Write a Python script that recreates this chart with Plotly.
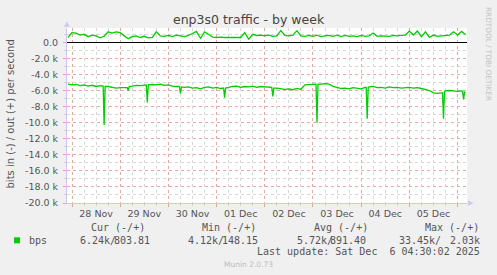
import plotly.graph_objects as go

# ---------------- data ----------------
# hours relative to 28 Nov 2025 00:00
out_hours = list(range(-2, 197, 2))
out_bps = [
    600, 1200, 1150, 900, 1000, 700, 900, 800, 550, 750,
    1300, 1150, 1300, 1200, 800, 450, 700, 800, 600, 750,
    550, 600, 1300, 800, 750, 850, 700, 900, 800, 700,
    850, 1100, 1350, 500, 1300, 1000, 650, 600, 650, 600,
    620, 600, 650, 600, 1200, 400, 1000, 850, 900, 800,
    900, 750, 800, 1450, 850, 800, 900, 1450, 800, 750,
    850, 750, 900, 700, 800, 850, 750, 900, 700, 850,
    750, 800, 700, 850, 750, 800, 1150, 750, 800, 800,
    750, 850, 800, 850, 900, 1400, 900, 1400, 700, 1300,
    600, 900, 750, 800, 850, 900, 1300, 900, 1350, 950,
]

in_hours = [
    -2, 0, 2, 4, 6, 8, 10, 12, 14, 15.5, 16, 16.5,
    18, 20, 22, 24, 26, 27.5, 28, 28.5, 30, 32, 34, 36,
    37, 37.5, 38, 40, 42, 44, 46, 48, 50, 52, 53.5, 54, 54.5,
    56, 58, 60, 62, 64, 66, 68, 70, 72, 74, 75.5, 76, 76.5,
    78, 80, 82, 84, 86, 88, 90, 92, 94, 96, 98, 99.5, 100, 100.5,
    102, 104, 106, 108, 110, 112, 114, 116, 118, 120, 121.5, 122, 122.5,
    124, 126, 128, 130, 132, 134, 136, 138, 140, 142, 144, 146, 146.5, 147, 147.5,
    148, 150, 152, 154, 156, 158, 160, 162, 164, 166, 168, 170, 172, 174,
    176, 178, 180, 182, 184, 184.5, 185, 185.5, 186, 188, 190, 192, 194, 194.5, 195, 195.5, 196,
]
in_bps = [
    -5200, -5300, -5250, -5400, -5300, -5450, -5350, -5500, -5400, -5450, -10300, -5500,
    -5500, -5600, -5700, -5650, -5600, -5650, -6000, -5500, -5450, -5350, -5400, -5300,
    -5300, -7500, -5300, -5250, -5300, -5200, -5350, -5300, -5450, -5500, -5500, -6350, -5550,
    -5600, -5550, -5700, -5650, -5800, -5600, -5550, -5700, -5600, -5750, -5700, -6900, -5700,
    -5600, -5500, -5450, -5600, -5500, -5550, -5450, -5600, -5500, -5550, -5600, -5600, -6750, -5700,
    -5700, -5750, -5850, -5800, -5900, -5750, -5850, -5300, -5250, -5200, -5200, -10000, -5200,
    -5200, -5150, -5200, -5500, -5600, -5750, -5700, -5800, -5650, -5700, -5800, -5600, -5600, -9500, -5600,
    -5550, -5500, -5650, -5600, -5700, -5550, -5650, -5600, -5700, -5650, -5600, -5700, -5650, -5750,
    -5900, -6000, -6300, -6350, -6300, -6300, -9500, -6100, -6050, -6000, -6050, -6100, -6050, -6100, -7100, -6200, -6250,
]
assert len(in_hours) == len(in_bps) and len(out_hours) == len(out_bps)

day_label_hours = [12, 36, 60, 84, 108, 132, 156, 180]
day_labels = ["28 Nov", "29 Nov", "30 Nov", "01 Dec", "02 Dec", "03 Dec", "04 Dec", "05 Dec"]
y_tick_vals = [0, -2000, -4000, -6000, -8000, -10000, -12000, -14000, -16000, -18000, -20000]
y_tick_text = ["0.0", "-2.0 k", "-4.0 k", "-6.0 k", "-8.0 k", "-10.0 k", "-12.0 k",
               "-14.0 k", "-16.0 k", "-18.0 k", "-20.0 k"]

legend_name = "bps"
col_headers = ["Cur (-/+)", "Min (-/+)", "Avg (-/+)", "Max (-/+)"]
col_in = ["6.24k/", "4.12k/", "5.72k/", "33.45k/"]
col_out = ["803.81", "148.15", "891.40", "2.03k"]
last_update = "Last update: Sat Dec  6 04:30:02 2025"

X_RANGE = [-2.49, 196.7]
Y_RANGE = [-20000, 1780]

# ---------------- layout geometry ----------------
W, H = 497, 275
L, R, T, B = 67, 30, 28, 72
PW, PH = W - L - R, H - T - B


def px(x):
    return (x - L) / PW


def py(y):
    return 1 - (y - T) / PH


GREEN = "#00CC00"
TXT = "#555555"
SANS = "DejaVu Sans"
MONO = "DejaVu Sans Mono"

fig = go.Figure()
fig.add_trace(go.Scatter(x=in_hours, y=in_bps, mode="lines",
                         line=dict(color=GREEN, width=1.3), xaxis="x", yaxis="y",
                         showlegend=False, hoverinfo="skip"))
fig.add_trace(go.Scatter(x=out_hours, y=out_bps, mode="lines",
                         line=dict(color=GREEN, width=1.3), xaxis="x2", yaxis="y",
                         showlegend=False, hoverinfo="skip"))

fig.update_layout(
    width=W, height=H,
    margin=dict(l=L, r=R, t=T, b=B, pad=0),
    paper_bgcolor="#F0F0F0", plot_bgcolor="#FFFFFF",
    showlegend=False,
    xaxis=dict(
        range=X_RANGE, tickmode="linear", tick0=0, dtick=24,
        showticklabels=False, showgrid=True, gridcolor="#E8A8A8", griddash="dot", gridwidth=1,
        ticks="outside", ticklen=3, tickcolor="#E8A0A0",
        minor=dict(dtick=6, tick0=0, showgrid=True, gridcolor="#D8D8D8", griddash="dot",
                   ticks="outside", ticklen=2, tickcolor="#D0D0D0"),
        showline=True, linecolor="#C8C8F0", linewidth=1, zeroline=False,
        fixedrange=True,
    ),
    xaxis2=dict(
        range=X_RANGE, overlaying="x", side="bottom", anchor="y",
        tickmode="array", tickvals=day_label_hours, ticktext=day_labels,
        showgrid=False, ticks="", showline=False, zeroline=False,
        tickfont=dict(family=SANS, size=9.5, color=TXT), ticklabelstandoff=3,
    ),
    yaxis=dict(
        range=Y_RANGE, tickmode="array", tickvals=y_tick_vals, ticktext=y_tick_text,
        tickfont=dict(family=SANS, size=9.5, color=TXT),
        showgrid=True, gridcolor="#E8A8A8", griddash="dot", gridwidth=1,
        ticks="outside", ticklen=3, tickcolor="#E8A0A0", ticklabelstandoff=3,
        minor=dict(dtick=1000, tick0=0, showgrid=True, gridcolor="#D8D8D8", griddash="dot",
                   ticks="outside", ticklen=2, tickcolor="#D0D0D0"),
        showline=True, linecolor="#C8C8F0", linewidth=1,
        zeroline=True, zerolinecolor="#000000", zerolinewidth=1,
    ),
)

ann = []


def text(x, y, s, size, color=TXT, family=SANS, xanchor="left", angle=0):
    ann.append(dict(x=px(x), y=py(y), xref="paper", yref="paper", text=s, showarrow=False,
                    font=dict(family=family, size=size, color=color),
                    xanchor=xanchor, yanchor="middle", textangle=angle))


text(248.5, 19, "enp3s0 traffic - by week", 12.5, color="#444444", xanchor="center")
text(10, 114.5, "bits in (-) / out (+) per second", 10, xanchor="center", angle=-90)
text(488.5, 53.5, "RRDTOOL / TOBI OETIKER", 7.3, color="#C4C4C4", xanchor="center", angle=90)
text(67, 24, "▲", 7, color="#C8C8F8", xanchor="center")
text(470.5, 203.3, "▶", 7, color="#C8C8F8", xanchor="center")

# legend area
hdr_x = [89, 200, 312, 422.7]
in_x = [78.3, 186, 295, 396.7]
out_right = [152, 260, 368.3, 482.3]
for i in range(4):
    text(hdr_x[i], 227, col_headers[i], 10, family=MONO)
    text(in_x[i], 240, col_in[i], 10, family=MONO)
    text(out_right[i], 240, col_out[i], 10, family=MONO, xanchor="right")
text(26.7, 240, legend_name, 10, family=MONO)
text(482.3, 251.5, last_update, 10, family=MONO, xanchor="right")
text(248, 264, "Munin 2.0.73", 7.5, color="#BBBBBB", xanchor="center")

fig.update_layout(annotations=ann)

# legend colour swatch (paper-positioned decoration)
fig.add_shape(type="rect", xref="paper", yref="paper",
              x0=px(14), x1=px(20), y0=py(243.3), y1=py(237.3),
              fillcolor=GREEN, line=dict(width=0))

fig.write_html("out.html")
